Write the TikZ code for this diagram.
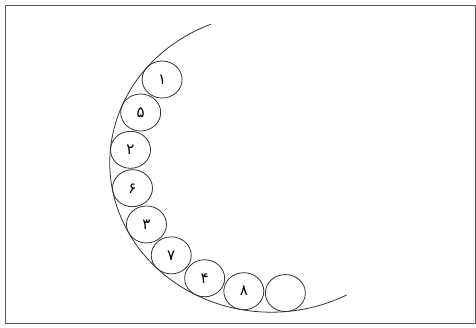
\documentclass[tikz,border=0pt]{standalone}
\usepackage{fontspec}
\newfontfamily\arabicfont[Script=Arabic]{DejaVu Sans}
\usetikzlibrary{shapes.geometric,calc}
\begin{document}
\begin{tikzpicture}[x=1pt,y=1pt,
  ball/.style={ellipse, draw=black!80, line width=0.8pt, minimum width=40pt, minimum height=37pt, inner sep=0pt, font=\arabicfont\fontsize{15}{15}\selectfont},
  rim/.style={draw=black!80, line width=0.8pt}]
\useasboundingbox (0,0) rectangle (476,327);
\node[draw=black!65, line width=0.9pt, minimum width=470pt, minimum height=318pt, inner sep=0pt] (frame) at (240,163) {};
\coordinate (c) at (271.3,164.2);
\coordinate (s) at ($(c)+(112:161.5 and 149.4)$);
\draw[rim] (s) arc[start angle=112, end angle=297.8, x radius=161.5, y radius=149.4];
\node[ball] (b1) at ($(c)+(140.5:141.5 and 130.9)$) {۱};
\node[ball] (b5) at ($(c)+(157.4:141.5 and 130.9)$) {۵};
\node[ball] (b2) at ($(c)+(174.3:141.5 and 130.9)$) {۲};
\node[ball] (b6) at ($(c)+(191.2:141.5 and 130.9)$) {۶};
\node[ball] (b3) at ($(c)+(208.1:141.5 and 130.9)$) {۳};
\node[ball] (b7) at ($(c)+(225.0:141.5 and 130.9)$) {۷};
\node[ball] (b4) at ($(c)+(241.9:141.5 and 130.9)$) {۴};
\node[ball] (b8) at ($(c)+(258.8:141.5 and 130.9)$) {۸};
\node[ball] (b9) at ($(c)+(275.7:141.5 and 130.9)$) {};
\end{tikzpicture}
\end{document}
